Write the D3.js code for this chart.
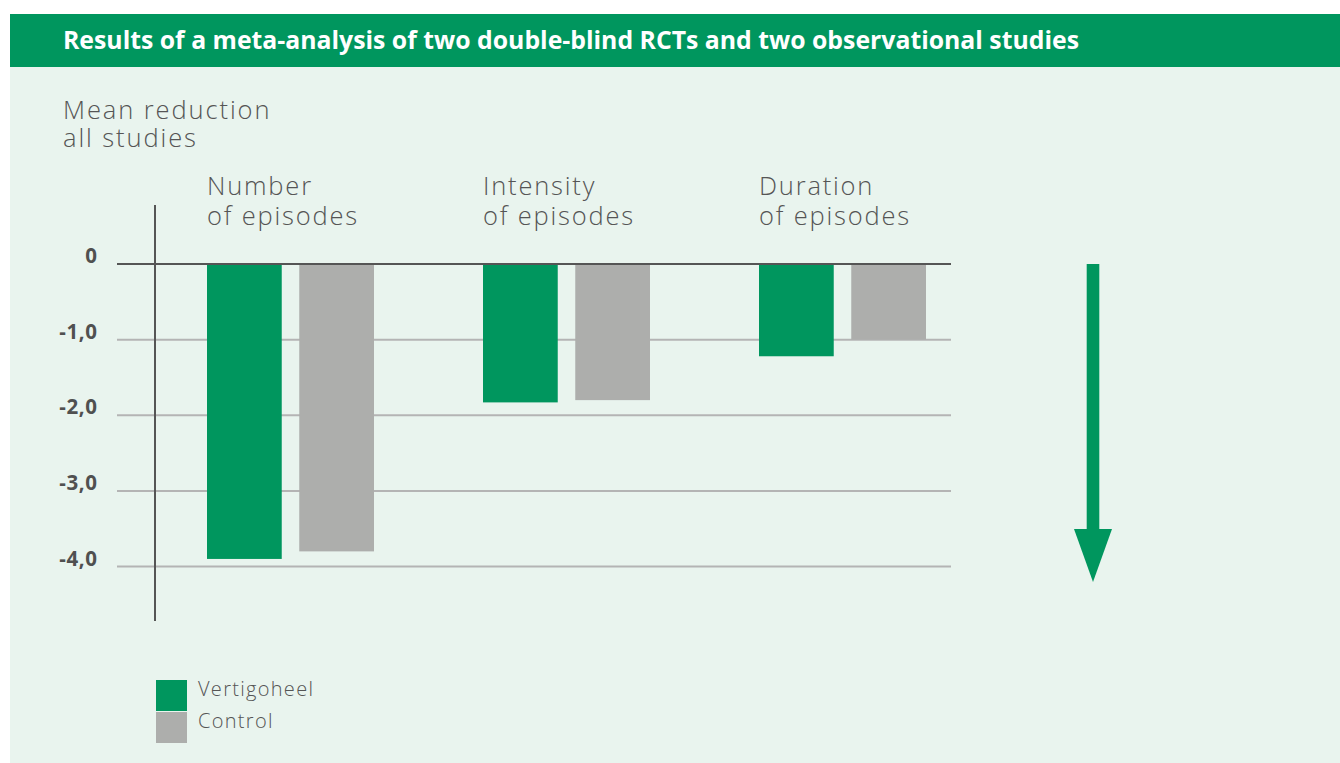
<!DOCTYPE html>
<html>
<head>
<meta charset="utf-8">
<script src="https://cdn.jsdelivr.net/npm/d3@7"></script>
<style>
  html, body { margin: 0; padding: 0; background: #ffffff; }
  svg { display: block; }
</style>
</head>
<body>
<script>
// ---- data ----
const title = "Results of a meta-analysis of two double-blind RCTs and two observational studies";
const yAxisTitle = ["Mean reduction", "all studies"];
const categories = [["Number", "of episodes"], ["Intensity", "of episodes"], ["Duration", "of episodes"]];
const seriesNames = ["Vertigoheel", "Control"];
const vertigoheel = [-3.9, -1.83, -1.22];
const control = [-3.8, -1.8, -1.0];
const tickValues = [0, -1, -2, -3, -4];
const tickLabels = ["0", "-1,0", "-2,0", "-3,0", "-4,0"];

const W = 1340, H = 763;
const GREEN = "#00965e", GRAY = "#adaeac", BG = "#e9f4ee", TEXT = "#555555";
const FONT = "'Open Sans', 'Noto Sans', sans-serif";

const svg = d3.select("body").append("svg").attr("width", W).attr("height", H);

// panel background and header band
svg.append("rect").attr("x", 10).attr("y", 14).attr("width", W - 10).attr("height", H - 14).attr("fill", BG);
svg.append("rect").attr("x", 10).attr("y", 14).attr("width", W - 10).attr("height", 53).attr("fill", GREEN);
svg.append("text").attr("x", 63).attr("y", 48.5)
  .attr("font-family", FONT).attr("font-weight", 700).attr("font-size", 24.8)
  .attr("fill", "#ffffff").text(title);

// scales
const y = d3.scaleLinear().domain([0, -4]).range([264, 566.5]);
const x = d3.scaleBand().domain(d3.range(categories.length)).range([207 - 18, 207 - 18 + 276 * 3]).paddingInner(0).paddingOuter(0);
const sub = d3.scaleBand().domain(seriesNames).range([18, 18 + 167]).paddingInner(0.19);

// gridlines
const g = svg.append("g");
g.selectAll("line.grid").data(tickValues).join("line")
  .attr("x1", 117).attr("x2", 951)
  .attr("y1", d => y(d)).attr("y2", d => y(d))
  .attr("stroke", d => d === 0 ? "#555555" : "#b4b4b4")
  .attr("stroke-width", 2);

// tick labels
g.selectAll("text.tick").data(tickValues).join("text")
  .attr("x", 97.5).attr("y", d => y(d) - 1)
  .attr("text-anchor", "end")
  .attr("font-family", FONT).attr("font-weight", 700).attr("font-size", 20.5)
  .attr("letter-spacing", 0.6)
  .attr("fill", "#505050")
  .text((d, i) => tickLabels[i]);

// bars
const series = [vertigoheel, control];
const colors = [GREEN, GRAY];
categories.forEach((c, i) => {
  series.forEach((s, j) => {
    svg.append("rect")
      .attr("x", x(i) + sub(seriesNames[j]))
      .attr("y", y(0))
      .attr("width", sub.bandwidth())
      .attr("height", y(s[i]) - y(0))
      .attr("fill", colors[j]);
  });
});

// zero line on top
svg.append("line").attr("x1", 117).attr("x2", 951).attr("y1", y(0)).attr("y2", y(0))
  .attr("stroke", "#555555").attr("stroke-width", 2);

// vertical axis
svg.append("line").attr("x1", 155).attr("x2", 155)
  .attr("y1", y(0.78)).attr("y2", y(-4.72))
  .attr("stroke", "#555555").attr("stroke-width", 2);

// category labels
categories.forEach((c, i) => {
  const t = svg.append("text").attr("font-family", FONT).attr("font-weight", 300)
    .attr("font-size", 25.5).attr("letter-spacing", 1.8).attr("fill", TEXT);
  c.forEach((line, k) => {
    t.append("tspan").attr("x", x(i) + sub(seriesNames[0])).attr("y", 195 + k * 29.5).text(line);
  });
});

// y axis title
const yt = svg.append("text").attr("font-family", FONT).attr("font-weight", 300)
  .attr("font-size", 25.5).attr("letter-spacing", 1.9).attr("fill", TEXT);
yAxisTitle.forEach((line, k) => yt.append("tspan").attr("x", 63).attr("y", 118.5 + k * 28.5).text(line));

// arrow
const ax = 1093;
svg.append("rect").attr("x", ax - 6.3).attr("y", y(0)).attr("width", 12.6).attr("height", 266).attr("fill", GREEN);
svg.append("path").attr("d", `M${ax - 19},529 L${ax + 19},529 L${ax},582 Z`).attr("fill", GREEN);

// legend
seriesNames.forEach((n, j) => {
  svg.append("rect").attr("x", 156).attr("y", 680 + j * 32).attr("width", 31).attr("height", 31).attr("fill", colors[j]);
  svg.append("text").attr("x", 198).attr("y", 696 + j * 32)
    .attr("font-family", FONT).attr("font-weight", 300).attr("font-size", 20)
    .attr("letter-spacing", 1.3).attr("fill", TEXT)
    .text(n);
});
</script>
</body>
</html>
